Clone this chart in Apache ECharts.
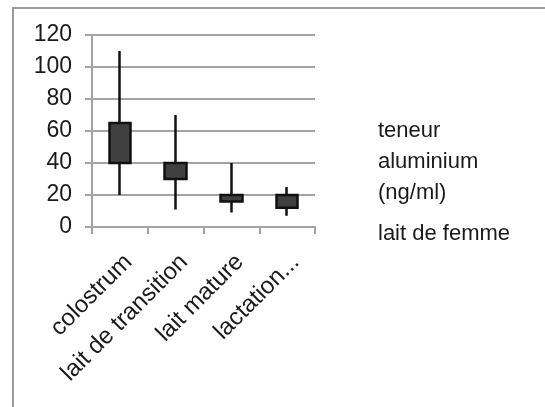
<!DOCTYPE html>
<html>
<head>
<meta charset="utf-8">
<script src="https://cdn.jsdelivr.net/npm/echarts@6/dist/echarts.min.js"></script>
<style>
  html, body { margin: 0; padding: 0; background: #fff; }
  #chart { width: 545px; height: 407px; }
</style>
</head>
<body>
<div id="chart"></div>
<script>
// Aluminium content of breast milk by lactation stage (ng/ml)
const categories = ['colostrum', 'lait de transition', 'lait mature', 'lactation...'];
const boxLow = [40, 30, 16, 12];    // lower edge of box
const boxHigh = [65, 40, 20, 20];   // upper edge of box
const whiskerLow = [20, 11, 9, 7];
const whiskerHigh = [110, 70, 40, 25];
const yTicks = { min: 0, max: 120, interval: 20 };
const seriesNames = ['teneur aluminium (ng/ml)', 'lait de femme'];
const legendLabels = { 'teneur aluminium (ng/ml)': 'teneur\naluminium\n(ng/ml)', 'lait de femme': 'lait de femme' };

const fontFamily = '"Liberation Sans", Arial, sans-serif';
const textColor = '#1a1a1a';
const lineGray = '#a3a3a3';

const candleData = categories.map((c, i) => [boxLow[i], boxHigh[i], whiskerLow[i], whiskerHigh[i]]);

const chart = echarts.init(document.getElementById('chart'), null, { renderer: 'canvas' });
chart.setOption({
  animation: false,
  backgroundColor: '#fff',
  textStyle: { fontFamily: fontFamily, color: textColor },
  graphic: [{
    type: 'rect',
    shape: { x: 13, y: 8, width: 560, height: 420 },
    style: { fill: 'none', stroke: '#9a9a9a', lineWidth: 2 },
    silent: true
  }],
  grid: { left: 92, right: 230, top: 35, bottom: 180 },
  legend: {
    orient: 'vertical',
    left: 373,
    top: 115,
    icon: 'none',
    itemWidth: 0,
    itemHeight: 0,
    itemGap: 10,
    padding: 0,
    data: seriesNames,
    formatter: name => legendLabels[name],
    textStyle: { fontFamily: fontFamily, fontSize: 22, color: textColor, lineHeight: 31, padding: 0 }
  },
  xAxis: {
    type: 'category',
    data: categories,
    boundaryGap: true,
    axisLine: { lineStyle: { color: lineGray, width: 2 } },
    axisTick: { show: true, alignWithLabel: false, length: 7, lineStyle: { color: lineGray, width: 2 } },
    axisLabel: {
      interval: 0,
      rotate: 45,
      margin: 23,
      verticalAlign: 'top',
      fontFamily: fontFamily,
      fontSize: 24,
      color: textColor
    },
    splitLine: { show: false }
  },
  yAxis: {
    type: 'value',
    min: yTicks.min,
    max: yTicks.max,
    interval: yTicks.interval,
    axisLine: { show: true, lineStyle: { color: lineGray, width: 2 } },
    axisTick: { show: true, length: 7, lineStyle: { color: lineGray, width: 2 } },
    axisLabel: { margin: 20, fontFamily: fontFamily, fontSize: 23, color: textColor },
    splitLine: { show: true, lineStyle: { color: lineGray, width: 2 } }
  },
  series: [
    {
      name: seriesNames[0],
      type: 'candlestick',
      data: candleData,
      barWidth: 22,
      itemStyle: {
        color: '#404040',
        color0: '#404040',
        borderColor: '#111',
        borderColor0: '#111',
        borderWidth: 2.5
      }
    },
    {
      name: seriesNames[1],
      type: 'line',
      data: []
    }
  ]
});
</script>
</body>
</html>
